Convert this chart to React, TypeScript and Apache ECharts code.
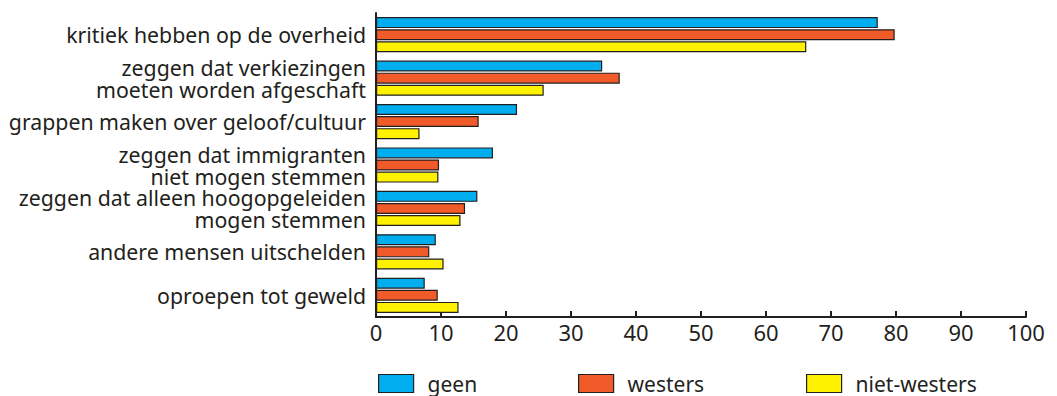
import React, { useEffect, useRef } from "react";
import * as echarts from "echarts";

const categories = [
  "kritiek hebben op de overheid",
  "zeggen dat verkiezingen\nmoeten worden afgeschaft",
  "grappen maken over geloof/cultuur",
  "zeggen dat immigranten\nniet mogen stemmen",
  "zeggen dat alleen hoogopgeleiden\nmogen stemmen",
  "andere mensen uitschelden",
  "oproepen tot geweld",
];
const seriesNames = ["geen", "westers", "niet-westers"];
const geen = [77.2, 34.8, 21.7, 18.0, 15.6, 9.2, 7.5];
const westers = [79.8, 37.5, 15.8, 9.7, 13.7, 8.2, 9.5];
const nietWesters = [66.2, 25.8, 6.7, 9.6, 13.0, 10.4, 12.7];
const colors = ["#00AEEF", "#F15A29", "#FFF200"];

export default function App() {
  const ref = useRef<HTMLDivElement>(null);
  useEffect(() => {
    if (!ref.current) return;
    const chart = echarts.init(ref.current, null, { renderer: "svg" });
    const font = "'Noto Sans', sans-serif";
    const textColor = "#231F20";
    const values = [geen, westers, nietWesters];
    const legendLefts = [378, 578, 806];
    chart.setOption({
      animation: false,
      textStyle: { fontFamily: font },
      grid: { left: 376, right: 31, top: 13, bottom: 79, containLabel: false },
      legend: seriesNames.map((n, i) => ({
        data: [n],
        left: legendLefts[i],
        top: 373,
        padding: 0,
        icon: "rect",
        itemWidth: 35,
        itemHeight: 18,
        itemGap: 0,
        itemStyle: { borderColor: textColor, borderWidth: 1.2 },
        textStyle: {
          fontSize: 21,
          lineHeight: 20,
          color: textColor,
          fontFamily: font,
          padding: [0, 0, 0, 9],
        },
        selectedMode: false,
      })),
      xAxis: {
        type: "value",
        min: 0,
        max: 100,
        interval: 10,
        axisLine: { show: true, lineStyle: { color: textColor, width: 2 } },
        axisTick: { show: true, inside: true, length: 6, lineStyle: { color: textColor, width: 2 } },
        axisLabel: { fontSize: 22, color: textColor, margin: 4, fontFamily: font },
        splitLine: { show: false },
      },
      yAxis: {
        type: "category",
        data: categories,
        inverse: true,
        axisLine: { show: true, lineStyle: { color: textColor, width: 2 } },
        axisTick: { show: false },
        axisLabel: { fontSize: 21.3, color: textColor, margin: 10, lineHeight: 22, fontFamily: font },
      },
      series: seriesNames.map((n, i) => ({
        name: n,
        type: "bar",
        data: values[i],
        barWidth: 11,
        barGap: "10%",
        itemStyle: { color: colors[i], borderColor: textColor, borderWidth: 1.2 },
      })),
    });
    return () => chart.dispose();
  }, []);
  return (
    <div
      ref={ref}
      style={{ position: "fixed", left: 0, top: 0, width: 1057, height: 396, background: "#fff" }}
    />
  );
}
